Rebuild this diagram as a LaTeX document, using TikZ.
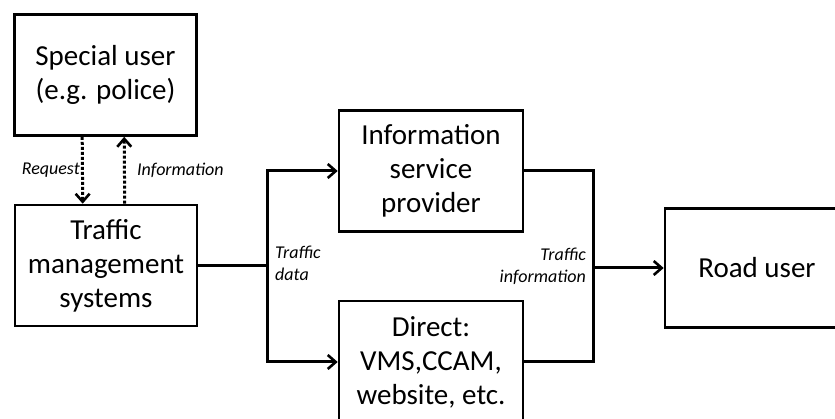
\documentclass[tikz,border=0pt]{standalone}
\usepackage{fontspec}
\setmainfont{Carlito}
\usetikzlibrary{arrows.meta,positioning}
\tikzset{every picture/.style={font issue=\fontsize{29}{34}},
         font issue/.style={execute at begin picture={#1\selectfont}}
        }

\begin{document}
\begin{tikzpicture}[x=1pt, y=-1pt,
  box/.style={draw, line width=2.6pt, minimum width=182pt, minimum height=121pt, align=center, inner sep=0pt},
  link/.style={line width=3pt},
  tip/.style={-{Straight Barb[length=8pt,width=14pt,line width=2.6pt]}},
  note/.style={font=\fontsize{18}{22}\selectfont\itshape, inner sep=0pt}]
\useasboundingbox (0,0) rectangle (835,419);
\clip (0,0) rectangle (835,419);

%Boxes
\node[box] (special) at (105.5,75) {Special user\\(e.g. police)};
\node[box] (tms) at (106,265.5) {Traffic\\management\\systems};
\node[box, minimum width=184pt] (isp) at (431,171) {Information\\service\\provider};
\node[box, minimum width=184pt, minimum height=122pt] (direct) at (431,362) {Direct:\\VMS,CCAM,\\website, etc.};
\node[box, minimum width=184pt, minimum height=119pt] (road) at (757,268) {Road user};

%Request and information
\draw[link, dotted, tip] ([xshift=69pt]special.south west) -- ([xshift=69pt]tms.north west);
\draw[link, dotted, tip] ([xshift=111pt]tms.north west) -- ([xshift=111pt]special.south west);
\node[note, anchor=east] (req) at (80,170) {Request};
\node[note, anchor=west] (info) at (137,170) {Information};

%Traffic data
\coordinate (split) at (267,265.5);
\draw[link] (tms.east) -- (split);
\draw[link, tip] (split) |- (isp.west);
\draw[link, tip] (split) |- (direct.west);
\node[note, anchor=west, align=left] (data) at (275,263) {Traffic\\data};

%Traffic information
\coordinate (merge) at (593,268);
\draw[link] (isp.east) -| (merge);
\draw[link] (direct.east) -| (merge);
\draw[link, tip] (merge) -- (road.west);
\node[note, anchor=east, align=right] (tinfo) at (586,266) {Traffic\\information};
\end{tikzpicture}
\end{document}
